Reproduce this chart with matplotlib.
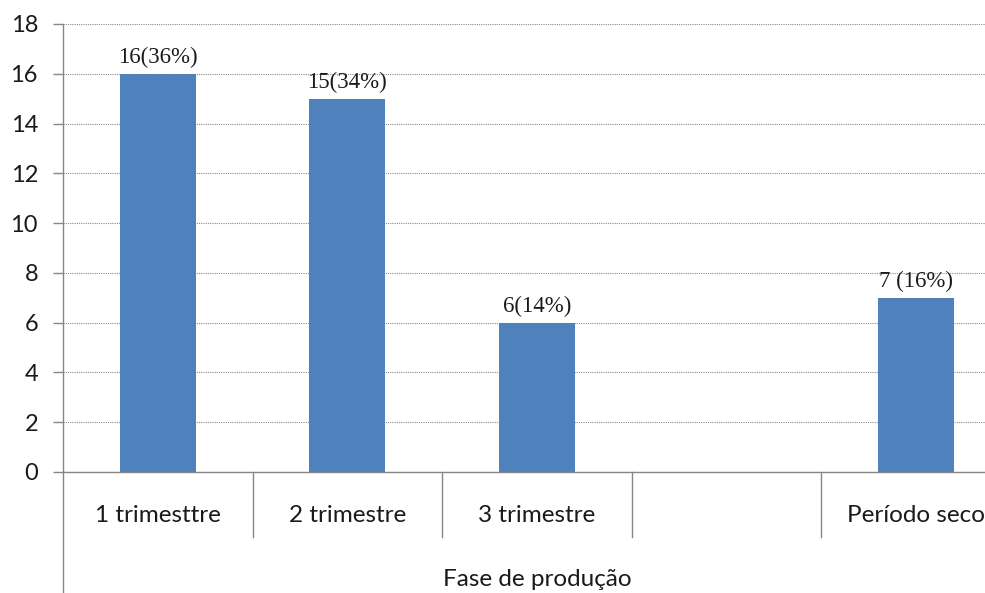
import matplotlib.pyplot as plt
import matplotlib.transforms as mtransforms

categories = ["1 trimesttre", "2 trimestre", "3 trimestre", "", "Período seco"]
values = [16, 15, 6, None, 7]
bar_labels = ["16(36%)", "15(34%)", "6(14%)", "", "7 (16%)"]
y_ticks = [0, 2, 4, 6, 8, 10, 12, 14, 16, 18]
x_title = "Fase de produção"

bar_color = "#4F81BD"
axis_color = "#868686"

fig = plt.figure(figsize=(9.85, 5.93), dpi=100)
ax = fig.add_axes([63 / 985, 121 / 593, 922 / 985, 448 / 593])

xs = [i for i, v in enumerate(values) if v is not None]
hs = [v for v in values if v is not None]
ax.bar(xs, hs, width=0.4, color=bar_color, zorder=3)

for i, v in enumerate(values):
    if v is None:
        continue
    ax.annotate(bar_labels[i], (i, v), xytext=(0, 4), textcoords="offset points",
                ha="center", va="bottom", fontsize=16.5,
                family="Liberation Serif", color="#1a1a1a", zorder=4)

ax.set_xlim(-0.5, 4.363)
ax.set_ylim(0, 18)
ax.set_yticks(y_ticks)
ax.set_yticklabels([str(t) for t in y_ticks], fontsize=17, family="Lato", color="#1a1a1a")
ax.tick_params(axis="y", length=7, width=1, color=axis_color, pad=11)

ax.set_xticks(range(len(categories)))
ax.set_xticklabels(categories, fontsize=17.5, family="Lato", color="#1a1a1a")
ax.tick_params(axis="x", length=0, pad=24)

ax.yaxis.grid(True, linestyle=(0, (1, 1)), color="#8c8c8c", linewidth=0.8, zorder=0)
ax.set_axisbelow(True)

for s in ["top", "right"]:
    ax.spines[s].set_visible(False)
ax.spines["left"].set_color(axis_color)
ax.spines["bottom"].set_color(axis_color)
ax.spines["left"].set_linewidth(1)
ax.spines["bottom"].set_linewidth(1)

# extend left axis down to the bottom and draw category separators
trans = mtransforms.blended_transform_factory(ax.transData, ax.transAxes)
ax.plot([-0.5, -0.5], [0, -0.3], transform=trans, color=axis_color,
        linewidth=1, clip_on=False)
for sep in [0.5, 1.5, 2.5, 3.5]:
    ax.plot([sep, sep], [0, -65 / 448], transform=trans, color=axis_color,
            linewidth=1, clip_on=False)

ax.text(2.0, -108 / 448, x_title, transform=trans, ha="center", va="center",
        fontsize=17.5, family="Lato", color="#1a1a1a")

fig.savefig("out.png", dpi=100)
